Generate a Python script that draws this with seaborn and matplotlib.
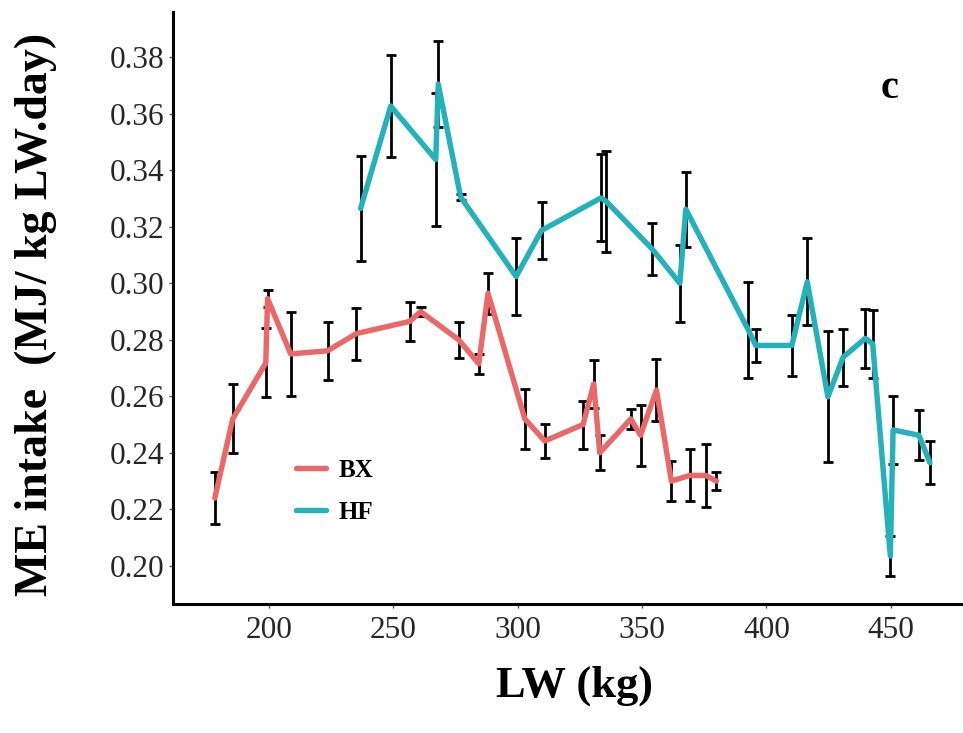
import numpy as np
import pandas as pd
import matplotlib
matplotlib.use("Agg")
import matplotlib.pyplot as plt
import seaborn as sns

# ---- data ----
bx_lw = [178.3, 185.5, 198.8, 199.5, 208.8, 223.6, 235.2, 256.7, 261.0, 276.3, 284.4, 288.1,
         302.9, 310.9, 326.3, 330.6, 333.0, 345.5, 349.4, 355.8, 361.8, 369.2, 375.6, 379.9]
bx_me = [0.2240, 0.2520, 0.2718, 0.2946, 0.2750, 0.2761, 0.2822, 0.2865, 0.2900, 0.2800, 0.2715, 0.2965,
         0.2520, 0.2442, 0.2500, 0.2644, 0.2400, 0.2520, 0.2462, 0.2622, 0.2300, 0.2320, 0.2320, 0.2300]
bx_se = [0.0092, 0.0122, 0.0122, 0.0030, 0.0150, 0.0102, 0.0092, 0.0068, 0.0015, 0.0063, 0.0035, 0.0072,
         0.0106, 0.0059, 0.0085, 0.0085, 0.0062, 0.0036, 0.0108, 0.0111, 0.0070, 0.0092, 0.0111, 0.0032]

hf_lw = [236.9, 249.0, 267.1, 268.1, 277.1, 299.4, 309.6, 333.5, 335.6, 354.0, 365.2, 367.6,
         392.7, 395.7, 410.2, 416.4, 424.7, 430.8, 439.7, 442.7, 449.8, 450.9, 461.3, 465.7]
hf_me = [0.3265, 0.3627, 0.3438, 0.3705, 0.3305, 0.3024, 0.3187, 0.3302, 0.3290, 0.3122, 0.3000, 0.3262,
         0.2835, 0.2780, 0.2780, 0.3005, 0.2598, 0.2738, 0.2805, 0.2786, 0.2035, 0.2481, 0.2462, 0.2365]
hf_se = [0.0186, 0.0180, 0.0234, 0.0153, 0.0012, 0.0136, 0.0102, 0.0154, 0.0178, 0.0092, 0.0136, 0.0133,
         0.0169, 0.0058, 0.0107, 0.0154, 0.0232, 0.0100, 0.0105, 0.0120, 0.0070, 0.0120, 0.0088, 0.0077]

breeds = ["BX", "HF"]
colors = {"BX": "#EA6868", "HF": "#24B1B9"}
x_ticks = [200, 250, 300, 350, 400, 450]
y_ticks = [0.20, 0.22, 0.24, 0.26, 0.28, 0.30, 0.32, 0.34, 0.36, 0.38]

df = pd.DataFrame({
    "LW": bx_lw + hf_lw,
    "ME": bx_me + hf_me,
    "se": bx_se + hf_se,
    "breed": ["BX"] * len(bx_lw) + ["HF"] * len(hf_lw),
})

sns.set_theme(style="ticks")
plt.rcParams["font.family"] = ["Liberation Serif", "DejaVu Serif"]

fig = plt.figure(figsize=(9.63, 7.33), dpi=100)
ax = fig.add_axes([173 / 963, 1 - 604 / 733, 1 - 173 / 963, (604 - 12) / 733])

for b in breeds:
    sub = df[df.breed == b]
    ax.errorbar(sub.LW, sub.ME, yerr=sub.se, fmt="none", ecolor="black",
                elinewidth=2.0, capsize=3.8, capthick=2.0, zorder=2)

sns.lineplot(data=df, x="LW", y="ME", hue="breed", hue_order=breeds, palette=colors,
             estimator=None, sort=True, linewidth=3.9, ax=ax, zorder=3)

ax.set_xlim(161.5, 479)
ax.set_ylim(0.1865, 0.396)
ax.set_xticks(x_ticks)
ax.set_xticklabels([str(t) for t in x_ticks])
ax.set_yticks(y_ticks)
ax.set_yticklabels([f"{t:.2f}" for t in y_ticks])

for s in ["top", "right"]:
    ax.spines[s].set_visible(False)
for s in ["left", "bottom"]:
    ax.spines[s].set_linewidth(2.2)
    ax.spines[s].set_color("black")

ax.tick_params(axis="both", which="major", length=3, width=1, color="#555555",
               labelsize=22.5, labelcolor="#262626")
ax.tick_params(axis="x", pad=6)
ax.tick_params(axis="y", pad=3)

ax.set_xlabel("")
ax.set_ylabel("")
fig.text(574 / 963, 1 - 686 / 733, "LW (kg)", ha="center", va="center",
         fontsize=32, fontweight="bold", color="black")
fig.text(36 / 963, 1 - 314 / 733, "ME intake  (MJ/ kg LW.day)", ha="center", va="center",
         rotation=90, fontsize=33, fontweight="bold", color="black")
fig.text(890 / 963, 1 - 88 / 733, "c", ha="center", va="center",
         fontsize=29, fontweight="bold", color="black")

handles, labels = ax.get_legend_handles_labels()
leg = ax.legend(handles, labels, loc="upper left",
                bbox_to_anchor=(296 / 963, 1 - 459 / 733), bbox_transform=fig.transFigure,
                frameon=False, fontsize=18, handlelength=1.2, handletextpad=0.5,
                labelspacing=0.75, borderpad=0, borderaxespad=0)
for t in leg.get_texts():
    t.set_fontweight("bold")
    t.set_color("black")
for h in leg.get_lines():
    h.set_linewidth(3.9)

fig.savefig("out.png", dpi=100)
